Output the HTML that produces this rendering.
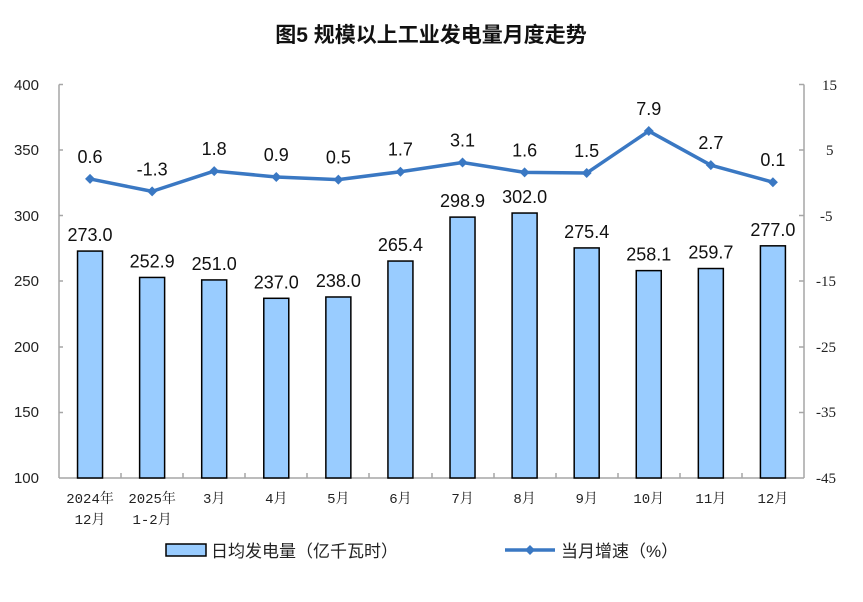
<!DOCTYPE html>
<html><head><meta charset="utf-8"><style>
body{margin:0;background:#fff;}
svg{display:block;}
.t{font-family:"Liberation Sans","Noto Sans CJK SC",sans-serif;}
.s{font-family:"Liberation Serif","Noto Serif CJK SC",serif;}
.m{font-family:"Liberation Mono","Noto Serif CJK SC",monospace;}
</style></head><body>
<svg width="863" height="602" xmlns="http://www.w3.org/2000/svg">
<text x="431" y="42" text-anchor="middle" class="t" font-size="21" font-weight="bold" fill="#111">图5  规模以上工业发电量月度走势</text>
<g stroke="#a6a6a6" stroke-width="1.5" fill="none">
<line x1="59" y1="84.5" x2="59" y2="478"/>
<line x1="804" y1="84.5" x2="804" y2="478"/>
<line x1="59" y1="478" x2="804" y2="478"/>
<line x1="59" y1="84.5" x2="63" y2="84.5"/><line x1="59" y1="150" x2="63" y2="150"/><line x1="59" y1="215.5" x2="63" y2="215.5"/><line x1="59" y1="281" x2="63" y2="281"/><line x1="59" y1="347" x2="63" y2="347"/><line x1="59" y1="412.5" x2="63" y2="412.5"/>
<line x1="799" y1="84.5" x2="804" y2="84.5"/><line x1="799" y1="150" x2="804" y2="150"/><line x1="799" y1="215.5" x2="804" y2="215.5"/><line x1="799" y1="281" x2="804" y2="281"/><line x1="799" y1="347" x2="804" y2="347"/><line x1="799" y1="412.5" x2="804" y2="412.5"/>
<line x1="121" y1="473" x2="121" y2="478"/><line x1="183" y1="473" x2="183" y2="478"/><line x1="245" y1="473" x2="245" y2="478"/><line x1="307" y1="473" x2="307" y2="478"/><line x1="369" y1="473" x2="369" y2="478"/><line x1="432" y1="473" x2="432" y2="478"/><line x1="494" y1="473" x2="494" y2="478"/><line x1="556" y1="473" x2="556" y2="478"/><line x1="618" y1="473" x2="618" y2="478"/><line x1="680" y1="473" x2="680" y2="478"/><line x1="742" y1="473" x2="742" y2="478"/>
</g>
<g class="t" font-size="15" fill="#222" text-anchor="end">
<text x="39" y="90">400</text><text x="39" y="155">350</text><text x="39" y="221">300</text><text x="39" y="286">250</text><text x="39" y="352">200</text><text x="39" y="417">150</text><text x="39" y="483">100</text>
</g>
<g class="s" font-size="15" fill="#222" text-anchor="start">
<text x="822" y="90">15</text><text x="826" y="155">5</text><text x="820" y="221">-5</text><text x="816" y="286">-15</text><text x="816" y="352">-25</text><text x="816" y="417">-35</text><text x="816" y="483">-45</text>
</g>
<g fill="#99ccff" stroke="#000" stroke-width="1.5" id="bars"></g>
<g class="t" font-size="18" fill="#111" text-anchor="middle" id="blab"></g>
<g class="m" font-size="14" fill="#222" text-anchor="middle" id="xl"></g>
<polyline id="ln" fill="none" stroke="#3a78c3" stroke-width="3.5" stroke-linejoin="round"/>
<g fill="#3a78c3" id="mk"></g>
<g class="t" font-size="18" fill="#111" text-anchor="middle" id="llab"></g>
<rect x="166" y="544" width="40" height="12" fill="#99ccff" stroke="#000" stroke-width="1.5"/>
<text x="211" y="557" class="t" font-size="17" fill="#222">日均发电量（亿千瓦时）</text>
<line x1="505" y1="550" x2="555" y2="550" stroke="#3a78c3" stroke-width="3.5"/>
<path d="M530 545 L535 550 L530 555 L525 550Z" fill="#3a78c3"/>
<text x="561" y="557" class="t" font-size="17" fill="#222">当月增速（%）</text>
</svg>
<script>
var b=[273.0,252.9,251.0,237.0,238.0,265.4,298.9,302.0,275.4,258.1,259.7,277.0];
var g=[0.6,-1.3,1.8,0.9,0.5,1.7,3.1,1.6,1.5,7.9,2.7,0.1];
var xl=[["2024年","12月"],["2025年","1-2月"],["3月"],["4月"],["5月"],["6月"],["7月"],["8月"],["9月"],["10月"],["11月"],["12月"]];
var NS="http://www.w3.org/2000/svg";
function el(p,t,a,txt){var e=document.createElementNS(NS,t);for(var k in a)e.setAttribute(k,a[k]);if(txt)e.textContent=txt;document.getElementById(p).appendChild(e);}
var pts=[];
for(var i=0;i<12;i++){
 var cx=59+(i+0.5)*62.08;
 var y=478-(b[i]-100)*1.3117;
 el("bars","rect",{x:cx-12.5,y:y,width:25,height:478-y});
 el("blab","text",{x:cx,y:y-10},b[i].toFixed(1));
 var ly=84.5+(15-g[i])*6.558;
 pts.push(cx+","+ly);
 el("mk","path",{d:"M"+cx+" "+(ly-5)+" L"+(cx+5)+" "+ly+" L"+cx+" "+(ly+5)+" L"+(cx-5)+" "+ly+"Z"});
 el("llab","text",{x:cx,y:ly-16},g[i].toFixed(1));
 el("xl","text",{x:cx,y:503},xl[i][0]);
 if(xl[i][1])el("xl","text",{x:cx,y:524},xl[i][1]);
}
document.getElementById("ln").setAttribute("points",pts.join(" "));
</script>
</body></html>
